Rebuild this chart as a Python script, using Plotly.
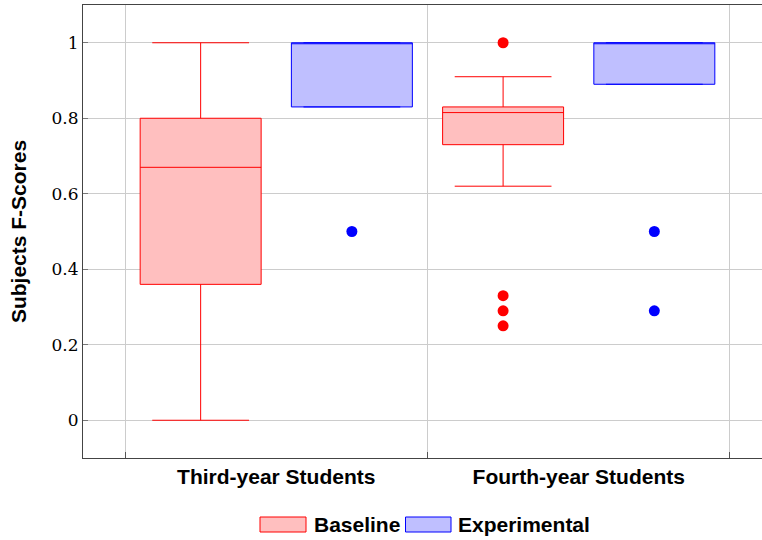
import plotly.graph_objects as go

# ---- data ----
groups = ["Third-year Students", "Fourth-year Students"]
group_pos = [1, 2]
series = ["Baseline", "Experimental"]

baseline_q1 = [0.36, 0.73]
baseline_median = [0.67, 0.815]
baseline_q3 = [0.80, 0.83]
baseline_low = [0.0, 0.62]
baseline_high = [1.0, 0.91]
baseline_outliers = [[], [1.0, 0.33, 0.29, 0.25]]

experimental_q1 = [0.83, 0.89]
experimental_median = [1.0, 1.0]
experimental_q3 = [1.0, 1.0]
experimental_low = [0.83, 0.89]
experimental_high = [1.0, 1.0]
experimental_outliers = [[0.5], [0.5, 0.29]]

y_ticks = [0, 0.2, 0.4, 0.6, 0.8, 1.0]
y_ticktext = ["0", "0.2", "0.4", "0.6", "0.8", "1"]

# ---- styling ----
W, H = 762, 540
ML, MR, MT, MB = 83, 0, 5, 82
offset = 0.25
box_w = 0.4
colors = {
    "Baseline": dict(line="#ff0000", fill="rgb(255,191,191)", dot="#ff0000"),
    "Experimental": dict(line="#0000ff", fill="rgb(191,191,255)", dot="#0000ff"),
}
SANS = "Liberation Sans, Arial, sans-serif"
SERIF = "DejaVu Serif, serif"

fig = go.Figure()

stats = {
    "Baseline": (baseline_q1, baseline_median, baseline_q3, baseline_low, baseline_high, baseline_outliers, -offset),
    "Experimental": (experimental_q1, experimental_median, experimental_q3, experimental_low, experimental_high, experimental_outliers, offset),
}

for name in series:
    q1, med, q3, lo, hi, outs, off = stats[name]
    xs = [g + off for g in group_pos]
    c = colors[name]
    fig.add_trace(go.Box(
        x=xs, q1=q1, median=med, q3=q3, lowerfence=lo, upperfence=hi,
        width=box_w, whiskerwidth=0.8, boxpoints=False,
        fillcolor=c["fill"], line=dict(color=c["line"], width=1),
        name=name, showlegend=False, hoverinfo="skip",
    ))
    ox, oy = [], []
    for x, vals in zip(xs, outs):
        for v in vals:
            ox.append(x)
            oy.append(v)
    fig.add_trace(go.Scatter(
        x=ox, y=oy, mode="markers",
        marker=dict(color=c["dot"], size=11, line=dict(width=0)),
        showlegend=False, hoverinfo="skip",
    ))

# manual legend (pixel -> paper helpers)
pw = W - ML - MR
ph = H - MT - MB
def px_x(p):
    return (p - ML) / pw
def px_y(p):
    return (H - MB - p) / ph

legend_items = [("Baseline", 260, 306, 312), ("Experimental", 405.5, 451, 456)]
for name, x0, x1, tx in legend_items:
    c = colors[name]
    fig.add_shape(type="rect", xref="paper", yref="paper",
                  x0=px_x(x0), x1=px_x(x1), y0=px_y(532), y1=px_y(517),
                  fillcolor=c["fill"], line=dict(color=c["line"], width=1))
    fig.add_annotation(xref="paper", yref="paper", x=px_x(tx), y=px_y(524.5),
                       text=f"<b>{name}</b>", showarrow=False, xanchor="left",
                       yanchor="middle", font=dict(family=SANS, size=21, color="black"))

fig.update_layout(
    width=W, height=H,
    margin=dict(l=ML, r=MR, t=MT, b=MB, autoexpand=False),
    plot_bgcolor="white", paper_bgcolor="white",
    boxmode="overlay",
    showlegend=False,
)

fig.update_xaxes(
    range=[0.361, 2.606],
    tickmode="array", tickvals=group_pos, ticktext=[f"<b>{g}</b>" for g in groups],
    ticks="", showgrid=False, zeroline=False,
    tickfont=dict(family=SANS, size=21, color="black"),
    showline=True, linecolor="#444", linewidth=1, mirror=True,
    automargin=False,
    minor=dict(tickmode="array", tickvals=[0.5, 1.5, 2.5], showgrid=True,
               gridcolor="#cccccc", gridwidth=1, ticks="inside", ticklen=6,
               tickcolor="#555", tickwidth=1),
)

fig.update_yaxes(
    range=[-0.1, 1.1],
    tickmode="array", tickvals=y_ticks, ticktext=y_ticktext,
    ticks="inside", ticklen=5, tickcolor="#777", tickwidth=1,
    showgrid=True, gridcolor="#cccccc", gridwidth=1, zeroline=False,
    tickfont=dict(family=SERIF, size=17, color="black"),
    showline=True, linecolor="#444", linewidth=1,
    automargin=False,
    title=dict(text="<b>Subjects F-Scores</b>", font=dict(family=SANS, size=21, color="black"), standoff=19),
)

fig.write_html(
    "out.html",
    config={"displayModeBar": False},
    post_script="document.body.style.margin='0';document.body.style.overflow='hidden';",
)
